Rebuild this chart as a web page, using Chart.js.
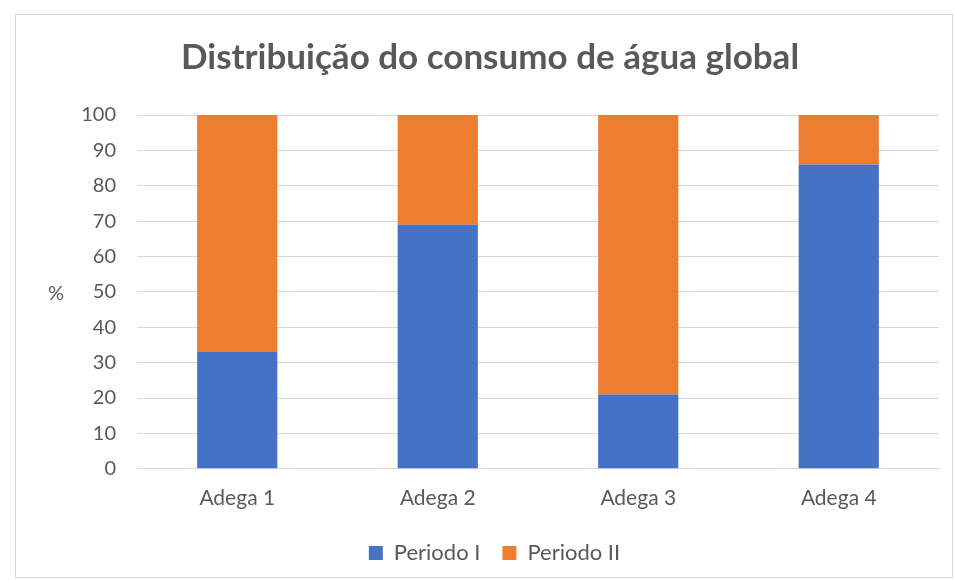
<!DOCTYPE html>
<html>
<head>
<meta charset="utf-8">
<script src="https://cdn.jsdelivr.net/npm/chart.js@4"></script>
<style>
  body { margin: 0; background: #fff; }
  #box {
    position: absolute; left: 15px; top: 14px;
    width: 938px; height: 564px;
    border: 1px solid #d9d9d9; box-sizing: border-box;
  }
</style>
</head>
<body>
<div id="box"><canvas id="myChart"></canvas></div>
<script>
const categories = ["Adega 1", "Adega 2", "Adega 3", "Adega 4"];
const periodo1 = [33, 69, 21, 86];
const periodo2 = [67, 31, 79, 14];
const yTicks = [0, 10, 20, 30, 40, 50, 60, 70, 80, 90, 100];

const titleText = "Distribuição do consumo de água global";
const grey = "#595959";
const fontFamily = "Lato, 'Open Sans', sans-serif";

// title centred on the whole box, and "%" sitting level left of the y axis
const extraText = {
    id: "extraText",
    afterLayout(chart) {
        // Excel centres the legend on the whole box, not on the padded area
        chart.legend.left += 17;
        chart.legend.right += 17;
    },
    afterDraw(chart) {
        const { ctx, chartArea } = chart;
        ctx.save();
        ctx.fillStyle = grey;
        ctx.textAlign = "center";
        ctx.textBaseline = "middle";
        ctx.font = "bold 35px " + fontFamily;
        ctx.fillText(titleText, 474, 43);
        ctx.font = "20px " + fontFamily;
        ctx.fillText("%", 40, (chartArea.top + chartArea.bottom) / 2 + 2);
        ctx.restore();
    },
};

const ctx = document.getElementById("myChart").getContext("2d");
const chart = new Chart(ctx, {
    type: "bar",
    data: {
        labels: categories,
        datasets: [
            { label: "Periodo I", data: periodo1, backgroundColor: "#4472C4" },
            { label: "Periodo II", data: periodo2, backgroundColor: "#ED7D31" },
        ],
    },
    options: {
        responsive: true,
        maintainAspectRatio: false,
        animation: false,
        layout: { padding: { left: 0, right: 13, top: 100, bottom: 3 } },
        datasets: { bar: { categoryPercentage: 0.4, barPercentage: 1 } },
        plugins: {
            title: { display: false },
            legend: {
                position: "bottom",
                labels: {
                    color: grey,
                    font: { family: fontFamily, size: 22 },
                    boxWidth: 14,
                    boxHeight: 14,
                    padding: 22,
                },
            },
            tooltip: { enabled: false },
        },
        scales: {
            x: {
                stacked: true,
                grid: { display: false },
                border: { color: "#d9d9d9" },
                ticks: { color: grey, font: { family: fontFamily, size: 21 }, padding: 9 },
            },
            y: {
                stacked: true,
                min: 0,
                max: 100,
                afterBuildTicks(scale) {
                    scale.ticks = yTicks.map(v => ({ value: v }));
                },
                afterFit(scale) {
                    scale.width = 121;
                },
                grid: { color: "#d9d9d9", drawTicks: false },
                border: { display: false },
                ticks: { color: grey, font: { family: fontFamily, size: 20 }, padding: 21 },
            },
        },
    },
    plugins: [extraText],
});
</script>
</body>
</html>
